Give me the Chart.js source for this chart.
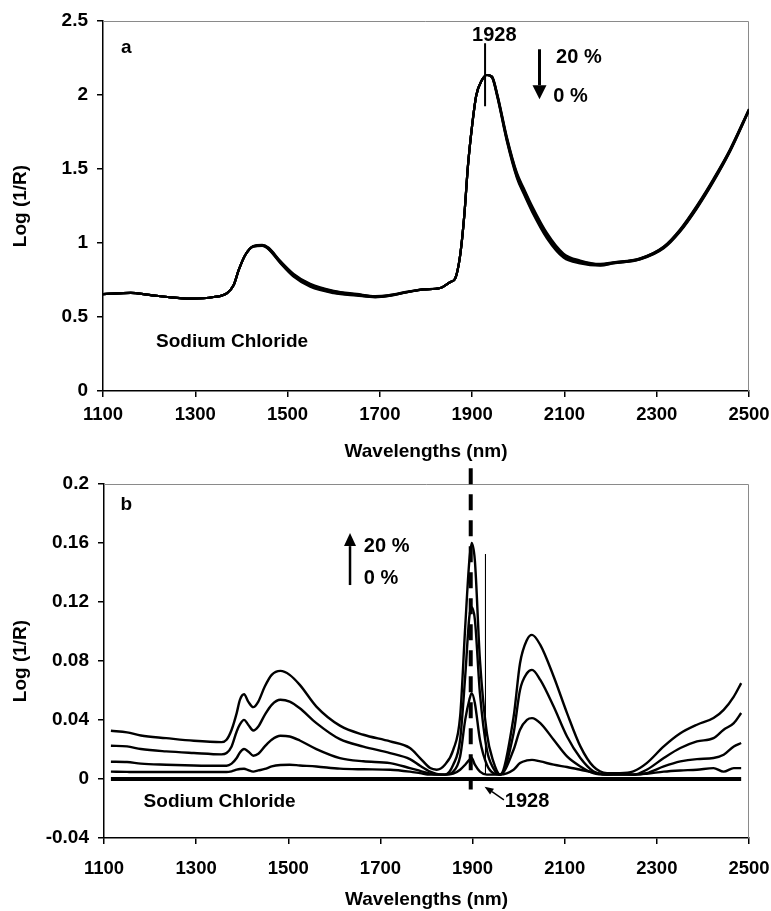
<!DOCTYPE html>
<html>
<head>
<meta charset="utf-8">
<title>Sodium Chloride spectra</title>
<script src="https://cdn.jsdelivr.net/npm/chart.js@4"></script>
<style>
  body { margin: 0; background: #fff; }
  #wrap { position: relative; width: 771px; height: 911px; overflow: hidden; }
  canvas { position: absolute; left: 0; }
  #chart-a { top: 0; }
  #chart-b { top: 455px; }
</style>
</head>
<body>
<div id="wrap">
  <canvas id="chart-a" width="771" height="462"></canvas>
  <canvas id="chart-b" width="771" height="456"></canvas>
</div>
<script>
const fontFamily = "'Liberation Sans', Arial, sans-serif";

// axes
const xTicks = [1100, 1300, 1500, 1700, 1900, 2100, 2300, 2500];
const yTicksA = [0, 0.5, 1, 1.5, 2, 2.5];
const yTicksB = [-0.04, 0, 0.04, 0.08, 0.12, 0.16, 0.2];

// panel a : log(1/R) spectra, 0 % .. 20 %
const topWl = [1100, 1160, 1200, 1240, 1290, 1340, 1369, 1383, 1394, 1408,
               1426, 1445, 1459, 1484, 1513, 1549, 1600, 1650, 1690, 1720,
               1760, 1795, 1831, 1853, 1863, 1874, 1883, 1891, 1900, 1909,
               1921, 1932, 1943, 1955, 1975, 1997, 2012, 2030, 2062, 2098,
               2134, 2178, 2206, 2264, 2315, 2351, 2387, 2423, 2459, 2500];
const topPct20 = [.655, .663, .650, .635, .624, .635, .662, .714, .816, .917,
                  .980, .988, .968, .880, .792, .724, .677, .656, .641, .648,
                  .671, .687, .696, .737, .759, .917, 1.187, 1.525, 1.795, 1.998,
                  2.099, 2.135, 2.126, 2.000, 1.720, 1.475, 1.370, 1.250, 1.068, .929,
                  .882, .859, .870, .897, .976, 1.094, 1.253, 1.434, 1.634, 1.906];
const topPct15 = [.655, .663, .650, .635, .624, .635, .662, .714, .816, .917,
                  .979, .986, .965, .876, .787, .719, .673, .653, .639, .647,
                  .670, .687, .696, .737, .759, .917, 1.187, 1.525, 1.795, 1.998,
                  2.099, 2.135, 2.124, 1.995, 1.712, 1.466, 1.360, 1.240, 1.059, .922,
                  .877, .856, .868, .895, .973, 1.090, 1.248, 1.429, 1.630, 1.903];
const topPct10 = [.655, .663, .650, .635, .624, .635, .662, .714, .816, .917,
                  .978, .984, .962, .872, .782, .714, .669, .650, .637, .645,
                  .669, .687, .696, .737, .759, .917, 1.187, 1.525, 1.795, 1.998,
                  2.099, 2.135, 2.122, 1.990, 1.705, 1.457, 1.350, 1.230, 1.050, .915,
                  .872, .853, .866, .893, .970, 1.086, 1.243, 1.424, 1.626, 1.900];
const topPct5 = [.655, .663, .650, .635, .624, .635, .662, .714, .816, .917,
                 .977, .982, .959, .868, .777, .709, .665, .647, .635, .643,
                 .668, .687, .696, .737, .759, .917, 1.187, 1.525, 1.795, 1.998,
                 2.099, 2.135, 2.120, 1.985, 1.698, 1.448, 1.340, 1.220, 1.041, .908,
                 .867, .850, .864, .891, .967, 1.082, 1.238, 1.419, 1.622, 1.897];
const topPct0 = [.655, .663, .650, .635, .624, .635, .662, .714, .816, .917,
                 .976, .980, .956, .864, .772, .704, .661, .644, .633, .642,
                 .667, .687, .696, .737, .759, .917, 1.187, 1.525, 1.795, 1.998,
                 2.099, 2.135, 2.118, 1.980, 1.690, 1.439, 1.330, 1.210, 1.032, .901,
                 .862, .847, .862, .889, .964, 1.078, 1.233, 1.414, 1.618, 1.894];

// panel b : difference spectra (sample - 0 %)
const botWl = [1115, 1150, 1180, 1235, 1295, 1355, 1366, 1377, 1388, 1395,
               1404, 1413, 1424, 1435, 1449, 1464, 1483, 1503, 1525, 1561,
               1612, 1663, 1721, 1764, 1786, 1808, 1822, 1840, 1858, 1873,
               1884, 1893, 1898, 1905, 1916, 1931, 1945, 1960, 1989, 2003,
               2018, 2029, 2047, 2076, 2105, 2134, 2162, 2192, 2220, 2249,
               2278, 2315, 2351, 2387, 2423, 2445, 2467, 2483];
const botPct20 = [.0327, .0316, .0295, .0277, .0259, .0250, .0266, .0334, .0447, .0537,
                  .0575, .0525, .0487, .0525, .0627, .0706, .0733, .0706, .0638, .0491,
                  .0362, .0300, .0255, .0210, .0142, .0074, .0063, .0097, .0198, .0424,
                  .1030, .1480, .1600, .1480, .0807, .0310, .0119, .0030, .0420, .0785,
                  .0943, .0977, .0909, .0695, .0447, .0221, .0085, .0040, .0040, .0052,
                  .0108, .0221, .0310, .0368, .0413, .0469, .0559, .0650];
const botPct15 = [.0225, .0221, .0203, .0187, .0176, .0167, .0176, .0221, .0322, .0370,
                  .0401, .0368, .0329, .0356, .0435, .0503, .0537, .0525, .0480, .0379,
                  .0270, .0220, .0176, .0135, .0090, .0050, .0035, .0030, .0097, .0266,
                  .0695, .1100, .1165, .1080, .0580, .0198, .0074, .0030, .0310, .0604,
                  .0717, .0740, .0672, .0491, .0288, .0142, .0052, .0030, .0040, .0030,
                  .0063, .0142, .0210, .0255, .0277, .0334, .0379, .0447];
const botPct10 = [.0117, .0115, .0104, .0097, .0092, .0090, .0090, .0104, .0142, .0180,
                  .0203, .0187, .0158, .0171, .0221, .0266, .0293, .0288, .0261, .0203,
                  .0142, .0120, .0108, .0074, .0055, .0036, .0030, .0030, .0050, .0153,
                  .0401, .0537, .0582, .0514, .0266, .0097, .0040, .0030, .0198, .0334,
                  .0401, .0413, .0379, .0266, .0153, .0085, .0040, .0030, .0030, .0030,
                  .0040, .0085, .0119, .0135, .0142, .0164, .0221, .0244];
const botPct5 = [.0050, .0048, .0047, .0047, .0047, .0047, .0047, .0052, .0063, .0068,
                 .0070, .0060, .0050, .0058, .0068, .0085, .0095, .0097, .0092, .0085,
                 .0070, .0066, .0063, .0050, .0040, .0030, .0030, .0030, .0036, .0063,
                 .0097, .0130, .0142, .0097, .0050, .0030, .0030, .0030, .0063, .0108,
                 .0126, .0130, .0119, .0097, .0081, .0063, .0045, .0030, .0030, .0030,
                 .0036, .0050, .0058, .0063, .0074, .0050, .0074, .0074];
const botPct0Wl = [1115, 2483];
const botPct0 = [0, 0];

// reference lines
const peakWl = [1928, 1928];
const peakTopVal = [2.35, 1.924];
const peakBotVal = [0.1525, 0.003];
const dashWl = [1896, 1896];
const dashVal = [0.2107, -0.0072];

Chart.defaults.font.family = fontFamily;
Chart.defaults.font.weight = 'bold';
Chart.defaults.color = '#000';

function pts(xs, ys) {
   return xs.map((x, i) => ({ x: x, y: ys[i] }));
}

function curve(xs, ys, width) {
   return {
      data: pts(xs, ys),
      borderColor: '#000',
      borderWidth: width,
      pointRadius: 0,
      cubicInterpolationMode: 'monotone',
      fill: false
   };
}

function straight(xs, ys, width, dash) {
   return {
      data: pts(xs, ys),
      borderColor: '#000',
      borderWidth: width,
      borderDash: dash || [],
      borderCapStyle: 'butt',
      pointRadius: 0,
      tension: 0,
      fill: false,
      clip: false
   };
}

// gray frame on top/right, then the text notes and arrows
function notesPlugin(texts, arrows) {
   return {
      id: 'notes',
      beforeDatasetsDraw(chart) {
         const a = chart.chartArea;
         const c = chart.ctx;
         c.save();
         c.strokeStyle = '#8a8a8a';
         c.lineWidth = 1;
         c.beginPath();
         c.moveTo(a.left, a.top + 0.5);
         c.lineTo(a.right - 0.5, a.top + 0.5);
         c.lineTo(a.right - 0.5, a.bottom);
         c.stroke();
         c.restore();
      },
      afterDatasetsDraw(chart) {
         const sx = chart.scales.x;
         const sy = chart.scales.y;
         const c = chart.ctx;
         c.save();
         c.fillStyle = '#000';
         c.strokeStyle = '#000';
         c.textBaseline = 'middle';
         texts.forEach(t => {
            c.font = 'bold ' + t.size + 'px ' + fontFamily;
            c.textAlign = t.align || 'left';
            c.fillText(t.text, sx.getPixelForValue(t.x), sy.getPixelForValue(t.y));
         });
         arrows.forEach(ar => {
            const x1 = sx.getPixelForValue(ar.x1), y1 = sy.getPixelForValue(ar.y1);
            const x2 = sx.getPixelForValue(ar.x2), y2 = sy.getPixelForValue(ar.y2);
            const ang = Math.atan2(y2 - y1, x2 - x1);
            const bx = x2 - ar.head * Math.cos(ang);
            const by = y2 - ar.head * Math.sin(ang);
            c.lineWidth = ar.width;
            c.beginPath();
            c.moveTo(x1, y1);
            c.lineTo(bx, by);
            c.stroke();
            c.beginPath();
            c.moveTo(x2, y2);
            c.lineTo(bx + ar.half * Math.sin(ang), by - ar.half * Math.cos(ang));
            c.lineTo(bx - ar.half * Math.sin(ang), by + ar.half * Math.cos(ang));
            c.closePath();
            c.fill();
         });
         c.restore();
      }
   };
}

function axes(yMin, yMax, yTicks, yWidth, xHeight, xPad, titlePad) {
   return {
      x: {
         type: 'linear',
         min: 1100,
         max: 2500,
         afterBuildTicks: s => { s.ticks = xTicks.map(v => ({ value: v })); },
         afterFit: s => {
            s.height = xHeight;
            // keep end labels from squeezing the plot area
            s.paddingLeft = 0;
            s.paddingRight = 0;
         },
         ticks: { font: { size: 18.5 }, padding: xPad, maxRotation: 0, autoSkip: false, callback: v => String(v) },
         grid: { drawOnChartArea: false, drawTicks: true, tickLength: 6, color: '#000', lineWidth: 1.5 },
         border: { color: '#000', width: 1.5 },
         title: { display: true, text: 'Wavelengths (nm)', font: { size: 19, lineHeight: 1 }, padding: { top: 0, bottom: titlePad } }
      },
      y: {
         min: yMin,
         max: yMax,
         afterBuildTicks: s => { s.ticks = yTicks.map(v => ({ value: v })); },
         afterFit: s => { s.width = yWidth; },
         ticks: { font: { size: 19 }, padding: 9, callback: v => String(v) },
         grid: { drawOnChartArea: false, drawTicks: true, tickLength: 6, color: '#000', lineWidth: 1.5 },
         border: { color: '#000', width: 1.5 },
         title: { display: true, text: 'Log (1/R)', font: { size: 19 }, padding: { top: 9, bottom: 0 } }
      }
   };
}

const baseOptions = {
   responsive: false,
   animation: false,
   devicePixelRatio: 1,
   events: [],
   plugins: {
      legend: { display: false },
      tooltip: { enabled: false }
   }
};

let chartA = new Chart(document.getElementById('chart-a'), {
   type: 'line',
   data: {
      datasets: [
         curve(topWl, topPct0, 2.2),
         curve(topWl, topPct5, 2.2),
         curve(topWl, topPct10, 2.2),
         curve(topWl, topPct15, 2.2),
         curve(topWl, topPct20, 2.2),
         straight(peakWl, peakTopVal, 2)
      ]
   },
   options: Object.assign({}, baseOptions, {
      layout: { padding: { top: 21, right: 22, left: 0, bottom: 0 } },
      scales: axes(0, 2.5, yTicksA, 103, 71, 7, 1)
   }),
   plugins: [notesPlugin(
      [
         { text: 'a', x: 1139, y: 2.32, size: 19 },
         { text: 'Sodium Chloride', x: 1215, y: 0.336, size: 19 },
         { text: '1928', x: 1948, y: 2.40, size: 20, align: 'center' },
         { text: '20 %', x: 2082, y: 2.254, size: 20 },
         { text: '0 %', x: 2076, y: 1.991, size: 20 }
      ],
      [
         { x1: 2046, y1: 2.309, x2: 2046, y2: 1.971, width: 3, head: 14, half: 7 }
      ]
   )]
});

let chartB = new Chart(document.getElementById('chart-b'), {
   type: 'line',
   data: {
      datasets: [
         straight(botPct0Wl, botPct0, 4),
         curve(botWl, botPct5, 2.4),
         curve(botWl, botPct10, 2.4),
         curve(botWl, botPct15, 2.4),
         curve(botWl, botPct20, 2.4),
         straight(peakWl, peakBotVal, 1),
         straight(dashWl, dashVal, 4, [16, 10])
      ]
   },
   options: Object.assign({}, baseOptions, {
      layout: { padding: { top: 29, right: 22, left: 0, bottom: 0 } },
      scales: axes(-0.04, 0.2, yTicksB, 104, 73, 14, 2)
   }),
   plugins: [notesPlugin(
      [
         { text: 'b', x: 1136, y: 0.1857, size: 19 },
         { text: 'Sodium Chloride', x: 1186, y: -0.0152, size: 19 },
         { text: '20 %', x: 1664, y: 0.1574, size: 20 },
         { text: '0 %', x: 1664, y: 0.1362, size: 20 },
         { text: '1928', x: 1970, y: -0.0152, size: 20 }
      ],
      [
         { x1: 1634, y1: 0.1315, x2: 1634, y2: 0.1667, width: 2.5, head: 13, half: 6 },
         { x1: 1968, y1: -0.0141, x2: 1926, y2: -0.0052, width: 1.5, head: 9, half: 3.5 }
      ]
   )]
});
</script>
</body>
</html>
